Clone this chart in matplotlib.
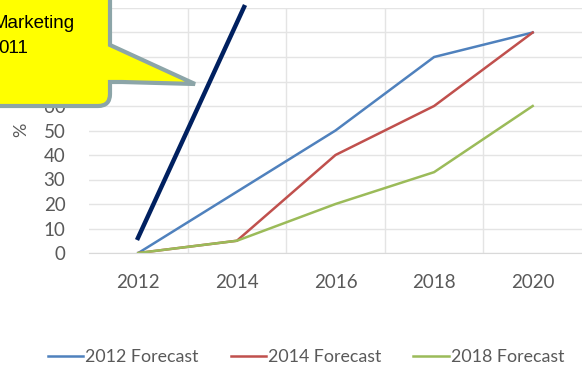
import matplotlib.pyplot as plt
import numpy as np
from matplotlib.path import Path
from matplotlib.patches import PathPatch

years = ['2012', '2014', '2016', '2018', '2020']
forecast_2012 = [0, 25, 50, 80, 90]
forecast_2014 = [0, 5, 40, 60, 90]
forecast_2018 = [0, 5, 20, 33, 60]
y_ticks = list(range(0, 101, 10))

W, H = 582, 368
fig = plt.figure(figsize=(W / 100, H / 100), dpi=100)
plt.rcParams['font.family'] = ['Lato', 'DejaVu Sans']
GREY = '#595959'

# plot area (pixel box converted to figure fractions)
left, right, top, bottom = 89, 582, 8, 253
ax = fig.add_axes([left / W, 1 - bottom / H, (right - left) / W, (bottom - top) / H])

x = np.arange(len(years))
ax.plot(x, forecast_2012, color='#4F81BD', lw=1.8, label='2012 Forecast')
ax.plot(x, forecast_2014, color='#C0504D', lw=1.8, label='2014 Forecast')
ax.plot(x, forecast_2018, color='#9BBB59', lw=1.8, label='2018 Forecast')

ax.set_xlim(-0.5, len(years) - 0.5)
ax.set_ylim(0, 100)
ax.set_xticks(x)
ax.set_xticklabels(years)
ax.set_xticks(np.arange(0.5, len(years) - 0.5), minor=True)
ax.set_yticks(y_ticks)
ax.grid(True, which='major', axis='y', color='#E4E4E4', lw=1)
ax.grid(True, which='minor', axis='x', color='#E4E4E4', lw=1)
ax.set_axisbelow(True)
for side in ['top', 'right', 'left']:
    ax.spines[side].set_visible(False)
ax.spines['bottom'].set_color('#D9D9D9')
ax.tick_params(which='both', length=0, colors=GREY, labelsize=13.5)
ax.tick_params(axis='x', pad=15)
ax.tick_params(axis='y', pad=17)
fig.text(21 / W, 1 - 130 / H, '%', rotation=90, ha='center', va='center',
         color=GREY, fontsize=13)

fig.legend(loc='center', bbox_to_anchor=(306 / W, 1 - 357 / H), ncol=3,
           frameon=False, fontsize=12.8, labelcolor=GREY,
           handlelength=2.0, handletextpad=0.1, columnspacing=1.8)

# overlay drawn in pixel coordinates
ov = fig.add_axes([0, 0, 1, 1], zorder=10)
ov.set_xlim(0, W)
ov.set_ylim(H, 0)
ov.axis('off')
ov.patch.set_alpha(0)

ov.plot([137, 245], [240, 5], color='#002060', lw=3.2, solid_capstyle='butt')

verts = [(-10, -10), (110, -10), (110, 45), (195, 84), (122, 82),
         (110, 82), (110, 94), (110, 106), (98, 106), (-10, 106), (-10, -10)]
codes = [Path.MOVETO, Path.LINETO, Path.LINETO, Path.LINETO, Path.LINETO,
         Path.LINETO, Path.LINETO, Path.CURVE3, Path.CURVE3, Path.LINETO,
         Path.CLOSEPOLY]
ov.add_patch(PathPatch(Path(verts, codes), facecolor='#FFFF00',
                       edgecolor='#8CA5A8', lw=3, joinstyle='miter'))
callout_font = ['Liberation Sans', 'DejaVu Sans']
ov.text(75, 28, 'Marketing', ha='right', va='baseline', fontsize=13.5,
        family=callout_font, color='black')
ov.text(28, 53, '011', ha='right', va='baseline', fontsize=13.5,
        family=callout_font, color='black')

fig.savefig('out.png', dpi=100)
